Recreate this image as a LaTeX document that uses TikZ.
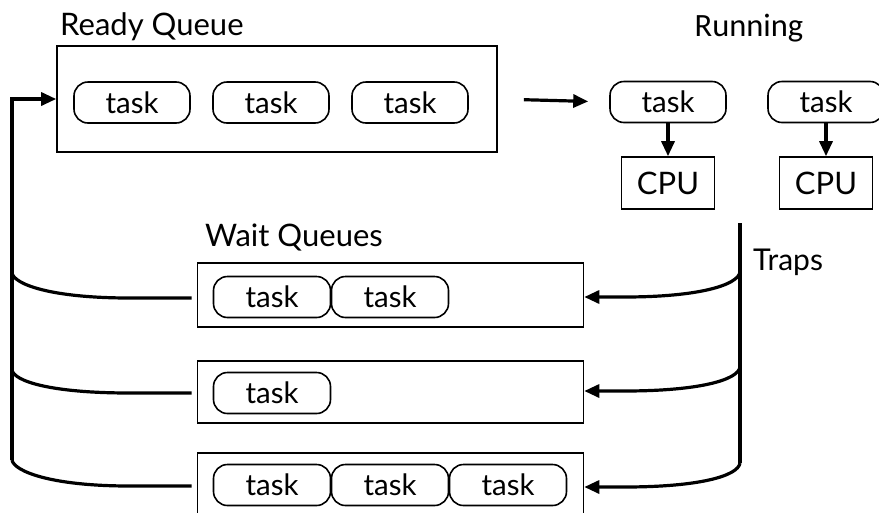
\documentclass[tikz,border=0pt]{standalone}
\usepackage{fontspec}
\setmainfont{Lato}
\newfontfamily\runfont{Carlito}
\usetikzlibrary{arrows.meta,calc}
\begin{document}
\begin{tikzpicture}[x=1pt,y=-1pt,
  box/.style={draw,line width=1.6pt,inner sep=0pt},
  pill/.style={draw,line width=1.6pt,rounded corners=14pt,minimum width=116pt,minimum height=41pt,inner sep=0pt,font=\fontsize{29.5}{32}\selectfont},
  cpubox/.style={draw,line width=1.6pt,minimum width=93pt,minimum height=52pt,inner sep=0pt,font=\fontsize{31}{34}\selectfont},
  lbl/.style={inner sep=0pt,font=\fontsize{31}{34}\selectfont},
  conn/.style={line width=3.2pt},
  arr/.style={line width=3.2pt,-{Triangle[length=15pt,width=13pt]}}]
\useasboundingbox (0,0) rectangle (879,512);
% Ready queue
\node[box,minimum width=440pt,minimum height=106pt] (ready) at (277,99) {};
\node[pill] (r1) at (132,102.5) {task};
\node[pill] (r2) at (271,102.5) {task};
\node[pill] (r3) at (410,102.5) {task};
\node[lbl,anchor=base west] (lready) at (60,35) {Ready Queue};
% Running
\node[pill] (p1) at (668,102) {task};
\node[pill] (p2) at (826,102) {task};
\node[cpubox] (c1) at (668,183) {CPU};
\node[cpubox] (c2) at (826,183) {CPU};
\node[lbl,anchor=base,font=\runfont\fontsize{32.5}{35}\selectfont] (lrun) at (749,36) {Running};
% Wait queues
\node[lbl,anchor=base west] (lwait) at (205,246) {Wait Queues};
\node[box,minimum width=386pt,minimum height=64pt] (w1) at (390.5,295) {};
\node[box,minimum width=386pt,minimum height=62pt] (w2) at (390.5,392) {};
\node[box,minimum width=386pt,minimum height=64pt] (w3) at (390.5,485) {};
\node[pill,minimum width=117pt] (w1a) at (272,297) {task};
\node[pill,minimum width=117pt] (w1b) at (390,297) {task};
\node[pill,minimum width=117pt] (w2a) at (272,393) {task};
\node[pill,minimum width=117pt] (w3a) at (272,485) {task};
\node[pill,minimum width=117pt] (w3b) at (390,485) {task};
\node[pill,minimum width=117pt] (w3c) at (508,485) {task};
\node[lbl,anchor=base west,font=\fontsize{30}{33}\selectfont] (ltraps) at (753,270) {Traps};
% coordinates
\coordinate (ttop) at (740,223);
\coordinate (tb1) at (740,272);
\coordinate (tb2) at (740,367);
\coordinate (tb3) at (740,463);
\coordinate (lb1) at (12,273);
\coordinate (lb2) at (12,370);
\coordinate (lb3) at (12,460);
% arrows
\draw[arr,shorten <=26pt,shorten >=21pt] (ready.east) -- (p1.west);
\draw[arr] (p1.south) -- (c1.north);
\draw[arr] (p2.south) -- (c2.north);
\draw[arr] (lb3) |- (ready.west);
\draw[conn] (ttop) -- (tb3);
\draw[arr] (tb1) .. controls +(-2,13) and +(75,0) .. ($(w1.east)+(40,2)$) -- ($(w1.east)+(0,2)$);
\draw[arr] (tb2) .. controls +(-2,13) and +(75,0) .. ($(w2.east)+(40,-1)$) -- ($(w2.east)+(0,-1)$);
\draw[arr] (tb3) .. controls +(-2,13) and +(75,0) .. ($(w3.east)+(40,2)$) -- ($(w3.east)+(0,2)$);
\draw[conn] (lb1) .. controls +(2,11) and +(-80,0) .. ($(w1.west)+(-67,3)$) -- ($(w1.west)+(-5,3)$);
\draw[conn] (lb2) .. controls +(2,11) and +(-80,0) .. ($(w2.west)+(-67,1)$) -- ($(w2.west)+(-5,1)$);
\draw[conn] (lb3) .. controls +(2,11) and +(-80,0) .. ($(w3.west)+(-67,1)$) -- ($(w3.west)+(-5,1)$);
\end{tikzpicture}
\end{document}
